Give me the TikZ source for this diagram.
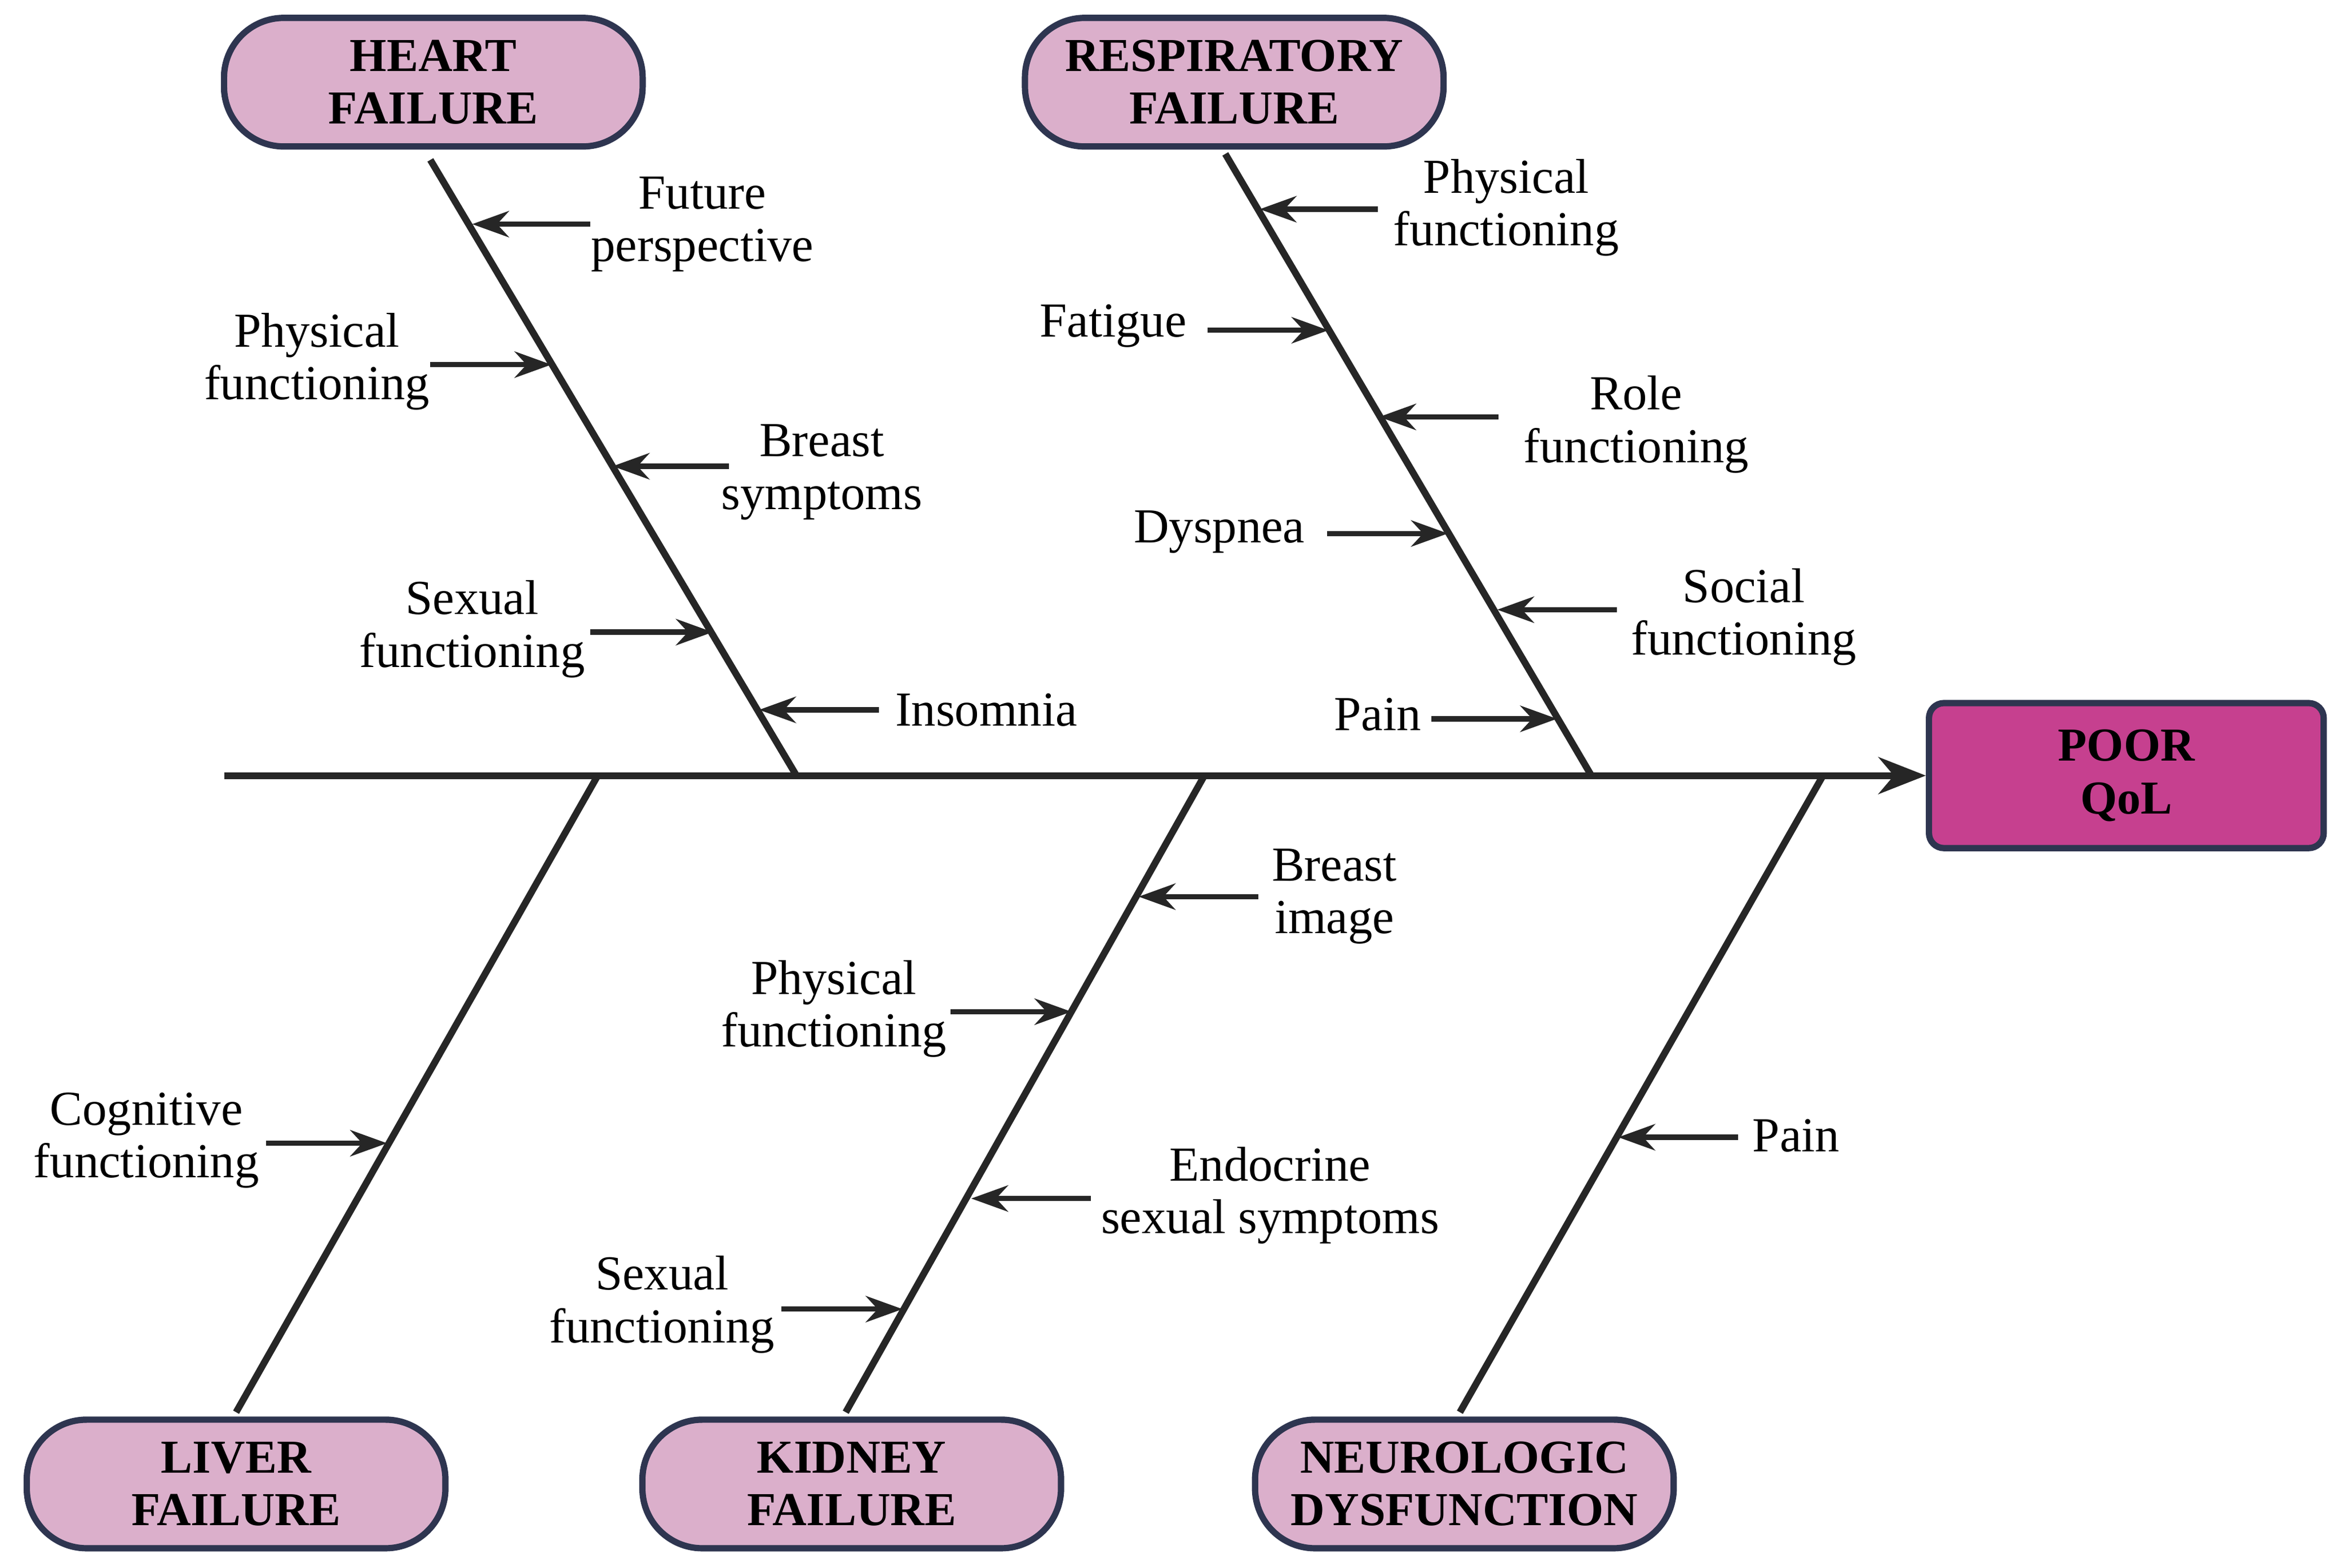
\documentclass[tikz,border=0pt]{standalone}
\usepackage{fontspec}
\setmainfont{Liberation Serif}
\usetikzlibrary{arrows.meta}
\definecolor{pinkfill}{HTML}{DBAFCB}
\definecolor{qolfill}{HTML}{C6408F}
\definecolor{edge}{HTML}{2E3550}
\begin{document}
\begin{tikzpicture}[x=0.01cm,y=-0.01cm,
  cat/.style={draw=edge,line width=1.2pt,fill=pinkfill,rounded corners=0.4cm,minimum width=2.8cm,minimum height=0.86cm,align=center,font=\fontsize{9}{10}\selectfont\bfseries,inner sep=0pt},
  lbl/.style={align=center,font=\fontsize{9.3}{10}\selectfont,inner sep=0pt},
  bone/.style={line width=1.3pt,draw=black!85},
  sub/.style={line width=1pt,-{Stealth[length=7pt,width=5pt]},draw=black!85}]
\useasboundingbox (0,0) rectangle (1568,1049);
% spine
\node[draw=edge,line width=1.2pt,fill=qolfill,rounded corners=0.1cm,minimum width=2.64cm,minimum height=0.97cm,align=center,font=\fontsize{9}{10}\selectfont\bfseries,inner sep=0pt] (qol) at (1423,519) {POOR\\QoL};
\coordinate (s0) at (150,519);
\draw[bone,-{Stealth[length=9pt,width=7pt]}] (s0) -- (qol.west);
% category boxes
\node[cat] (hf) at (290,55) {HEART\\FAILURE};
\node[cat] (rf) at (826,55) {RESPIRATORY\\FAILURE};
\node[cat] (lf) at (158,993) {LIVER\\FAILURE};
\node[cat] (kf) at (570,993) {KIDNEY\\FAILURE};
\node[cat] (nd) at (980,993) {NEUROLOGIC\\DYSFUNCTION};
% bones
\coordinate (h1) at (288,107); \coordinate (h2) at (533,519);
\coordinate (r1) at (820,103); \coordinate (r2) at (1065,519);
\coordinate (l1) at (400,519); \coordinate (l2) at (158,945);
\coordinate (k1) at (806,519); \coordinate (k2) at (566,945);
\coordinate (n1) at (1220,519); \coordinate (n2) at (977,945);
\draw[bone] (h1) -- (h2);
\draw[bone] (r1) -- (r2);
\draw[bone] (l1) -- (l2);
\draw[bone] (k1) -- (k2);
\draw[bone] (n1) -- (n2);
% heart failure causes
\node[lbl] (t1) at (470,150) {Future\\perspective};
\coordinate (a1) at (395,150); \coordinate (b1) at (316,150);
\draw[sub] (a1) -- (b1);
\node[lbl] (t2) at (212,242) {Physical\\functioning};
\coordinate (a2) at (288,244); \coordinate (b2) at (369,244);
\draw[sub] (a2) -- (b2);
\node[lbl] (t3) at (550,316) {Breast\\symptoms};
\coordinate (a3) at (488,312); \coordinate (b3) at (410,312);
\draw[sub] (a3) -- (b3);
\node[lbl] (t4) at (316,421) {Sexual\\functioning};
\coordinate (a4) at (395,423); \coordinate (b4) at (477,423);
\draw[sub] (a4) -- (b4);
\node[lbl] (t5) at (660,475) {Insomnia};
\coordinate (a5) at (588,475); \coordinate (b5) at (508,475);
\draw[sub] (a5) -- (b5);
% respiratory failure causes
\node[lbl] (t6) at (1008,139) {Physical\\functioning};
\coordinate (a6) at (922,140); \coordinate (b6) at (843,140);
\draw[sub] (a6) -- (b6);
\node[lbl] (t7) at (745,218) {Fatigue};
\coordinate (a7) at (808,221); \coordinate (b7) at (889,221);
\draw[sub] (a7) -- (b7);
\node[lbl] (t8) at (1095,284) {Role\\functioning};
\coordinate (a8) at (1003,279); \coordinate (b8) at (923,279);
\draw[sub] (a8) -- (b8);
\node[lbl] (t9) at (816,356) {Dyspnea};
\coordinate (a9) at (888,357); \coordinate (b9) at (969,357);
\draw[sub] (a9) -- (b9);
\node[lbl] (t10) at (1167,413) {Social\\functioning};
\coordinate (a10) at (1082,408); \coordinate (b10) at (1002,408);
\draw[sub] (a10) -- (b10);
\node[lbl] (t11) at (922,478) {Pain};
\coordinate (a11) at (958,481); \coordinate (b11) at (1042,481);
\draw[sub] (a11) -- (b11);
% liver
\node[lbl] (t12) at (98,763) {Cognitive\\functioning};
\coordinate (a12) at (178,765); \coordinate (b12) at (259,765);
\draw[sub] (a12) -- (b12);
% kidney
\node[lbl] (t13) at (893,600) {Breast\\image};
\coordinate (a13) at (842,600); \coordinate (b13) at (762,600);
\draw[sub] (a13) -- (b13);
\node[lbl] (t14) at (558,675) {Physical\\functioning};
\coordinate (a14) at (636,677); \coordinate (b14) at (717,677);
\draw[sub] (a14) -- (b14);
\node[lbl] (t15) at (850,800) {Endocrine\\sexual symptoms};
\coordinate (a15) at (730,802); \coordinate (b15) at (650,802);
\draw[sub] (a15) -- (b15);
\node[lbl] (t16) at (443,873) {Sexual\\functioning};
\coordinate (a16) at (523,876); \coordinate (b16) at (604,876);
\draw[sub] (a16) -- (b16);
% neurologic
\node[lbl] (t17) at (1202,760) {Pain};
\coordinate (a17) at (1163,761); \coordinate (b17) at (1083,761);
\draw[sub] (a17) -- (b17);
\end{tikzpicture}
\end{document}
